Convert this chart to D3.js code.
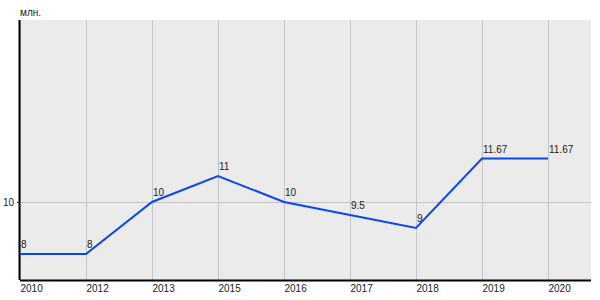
<!DOCTYPE html>
<html>
<head>
<meta charset="utf-8">
<script src="https://cdn.jsdelivr.net/npm/d3@7"></script>
<style>
  body { margin: 0; background: #fff; }
  text { font-family: "Liberation Sans", Arial, sans-serif; font-size: 10px; fill: #222; }
</style>
</head>
<body>
<div id="chart"></div>
<script>
// data
const years = ["2010", "2012", "2013", "2015", "2016", "2017", "2018", "2019", "2020"];
const values = [8, 8, 10, 11, 10, 9.5, 9, 11.67, 11.67];
const labels = ["8", "8", "10", "11", "10", "9.5", "9", "11.67", "11.67"];
const yTicks = [10];
const unitLabel = "млн.";

const svgWidth = 600;
const svgHeight = 300;

const plot = { left: 20, right: 591, top: 20, bottom: 280 };

const svg = d3.select("#chart")
  .append("svg")
  .attr("width", svgWidth)
  .attr("height", svgHeight);

// scales
const xScale = d3.scalePoint()
  .domain(years)
  .range([plot.left, 548]);

const yScale = d3.scaleLinear()
  .domain([7, 17])
  .range([plot.bottom, plot.top]);

// plot background
svg.append("rect")
  .attr("x", plot.left)
  .attr("y", plot.top)
  .attr("width", plot.right - plot.left)
  .attr("height", plot.bottom - plot.top)
  .attr("fill", "#ebebeb");

// vertical grid
svg.append("g")
  .selectAll("line")
  .data(years)
  .enter()
  .append("line")
  .attr("x1", d => xScale(d) + 0.5)
  .attr("x2", d => xScale(d) + 0.5)
  .attr("y1", plot.top)
  .attr("y2", plot.bottom)
  .attr("stroke", "#c6c6c6")
  .attr("stroke-width", 1);

// horizontal grid
svg.append("g")
  .selectAll("line")
  .data(yTicks)
  .enter()
  .append("line")
  .attr("x1", plot.left)
  .attr("x2", plot.right)
  .attr("y1", d => Math.round(yScale(d)) + 0.5)
  .attr("y2", d => Math.round(yScale(d)) + 0.5)
  .attr("stroke", "#c6c6c6")
  .attr("stroke-width", 1);

// x axis
const xAxis = d3.axisBottom(xScale).tickSize(0).tickPadding(0);
const xg = svg.append("g")
  .attr("transform", `translate(0, ${plot.bottom})`)
  .call(xAxis);
xg.select(".domain")
  .attr("d", `M${plot.left},0.5H${plot.right}`)
  .attr("stroke", "#000")
  .attr("stroke-width", 2);
xg.selectAll(".tick text")
  .attr("text-anchor", "start")
  .attr("y", 12)
  .attr("dy", 0)
  .style("font-family", "Liberation Sans, Arial, sans-serif")
  .style("font-size", "10px")
  .attr("fill", "#222");

// y axis
const yAxis = d3.axisLeft(yScale).tickValues(yTicks).tickSize(3).tickPadding(3);
const yg = svg.append("g")
  .attr("transform", `translate(${plot.left}, 0)`)
  .call(yAxis);
yg.select(".domain")
  .attr("d", `M-0.5,${plot.top}V${plot.bottom}`)
  .attr("stroke", "#000")
  .attr("stroke-width", 2);
yg.selectAll(".tick line").attr("stroke", "#000");
yg.selectAll(".tick text")
  .style("font-family", "Liberation Sans, Arial, sans-serif")
  .style("font-size", "10px")
  .attr("fill", "#222");

// unit label
svg.append("text")
  .attr("x", 20)
  .attr("y", 16)
  .text(unitLabel);

// line
const line = d3.line()
  .x((d, i) => xScale(years[i]))
  .y(d => yScale(d));

svg.append("path")
  .datum(values)
  .attr("d", line)
  .attr("fill", "none")
  .attr("stroke", "#0a48ec")
  .attr("stroke-width", 2);

// value labels
svg.append("g")
  .selectAll("text")
  .data(values)
  .enter()
  .append("text")
  .attr("x", (d, i) => xScale(years[i]) + 1)
  .attr("y", d => yScale(d) - 6)
  .text((d, i) => labels[i]);
</script>
</body>
</html>
